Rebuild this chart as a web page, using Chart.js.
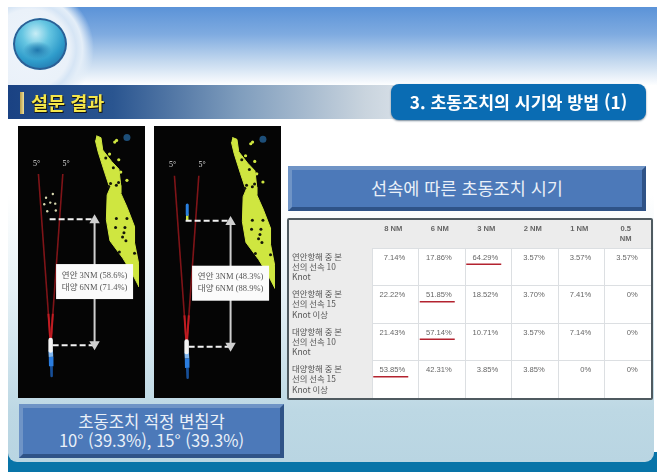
<!DOCTYPE html>
<html lang="ko"><head><meta charset="utf-8">
<script src="https://cdn.jsdelivr.net/npm/chart.js@4"></script>
<style>
html,body{margin:0;padding:0;background:#fff;overflow:hidden}
#slide{position:relative;width:657px;height:472px;overflow:hidden;filter:blur(.45px);font-family:"Noto Sans CJK KR",sans-serif}
.abs{position:absolute}
#sky{left:8px;top:7px;width:649px;height:78px;background:linear-gradient(#5b93d8 0%,#7fabe0 35%,#c4d9ef 70%,#fdfeff 100%)}
#globeClip{left:8px;top:7px;width:100px;height:78px;overflow:hidden}
#halo{left:-42px;top:-22px;width:128px;height:128px;border-radius:50%;background:radial-gradient(closest-side,#eef4fb 0,#eaf1f9 62%,#d6e5f5 72%,#e4eef8 82%,rgba(225,236,248,0) 100%)}
#globe{left:13px;top:18px;width:54px;height:52px;border-radius:50%;box-shadow:0 0 0 2px #2c5f95 inset;background:radial-gradient(ellipse 14px 9px at 45% 62%,#1f77ad 0,rgba(31,119,173,0) 100%),radial-gradient(circle at 42% 30%,#c7edf6 0,#66c6e2 28%,#2f9ccb 58%,#1f6fa8 85%,#1b5088 100%)}
#band{left:8px;top:85px;width:420px;height:34px;background:linear-gradient(90deg,#1a4283 0%,#2a5590 25%,#7f9dbd 55%,#c9d4de 85%,#e2e8ee 100%)}
#bar{left:20px;top:92px;width:4px;height:22px;background:linear-gradient(90deg,#b79c48,#efe09a)}
#title{left:31px;top:89px;font-size:18.5px;font-weight:700;color:#f4e64a;text-shadow:1px 1px 0 #111,-.5px .5px 0 #222;line-height:26px;white-space:nowrap}
#pill{left:391px;top:84px;width:255px;height:36px;border-radius:8px;background:#0a6cb3;box-shadow:0 1px 2px #789;color:#fff;font-weight:700;font-size:17.3px;line-height:35px;text-align:center;white-space:nowrap}
#body{left:8px;top:120px;width:646px;height:342px;border-radius:0 0 9px 9px;background:linear-gradient(#fff 0%,#fff 22%,#e6f1f6 50%,#bdd8e4 85%,#b9d5e2 100%)}
#foot2{left:8px;top:452px;width:649px;height:20px;background:#0874a8}
.box{background:#4c79b9;border:4px solid;border-color:#6f94c6 #2f5387 #2f5387 #6f94c6;color:#e9f0f8;text-align:center;box-sizing:border-box;white-space:nowrap}
#speedBox{left:288px;top:166px;width:358px;height:45px;font-size:17.5px;line-height:35px}
#angleBox{left:19px;top:404px;width:265px;height:54px;font-size:16.6px;line-height:19px;padding-top:4px}
#tableWrap{left:287px;top:218px;width:366px;height:182px;box-sizing:border-box;border:2px solid #4f5a60;background:#fff;border-radius:2px}
canvas{display:block}
</style></head><body>
<div id="slide">
<div class="abs" id="sky"></div>
<div class="abs" id="globeClip"><div class="abs" id="halo"></div></div>
<div class="abs" id="globe"></div>
<div class="abs" id="foot2"></div>
<div class="abs" id="body"></div>
<div class="abs" id="band"></div>
<div class="abs" id="bar"></div>
<div class="abs" id="title">설문 결과</div>
<div class="abs" id="pill">3. 초동조치의 시기와 방법 (1)</div>
<div class="abs" style="left:18px;top:126px;width:127px;height:272px;background:#050505"><canvas id="radarA" width="127" height="272"></canvas></div>
<div class="abs" style="left:154px;top:126px;width:127px;height:272px;background:#050505"><canvas id="radarB" width="127" height="272"></canvas></div>
<div class="abs box" id="speedBox">선속에 따른 초동조치 시기</div>
<div class="abs" id="tableWrap"><canvas id="timing" width="362" height="178"></canvas></div>
<div class="abs box" id="angleBox">초동조치 적정 변침각<br>10° (39.3%), 15° (39.3%)</div>
</div>
<script>
// ---- table data (percent of respondents) ----
const distanceLabels = [['8 NM',''],['6 NM',''],['3 NM',''],['2 NM',''],['1 NM',''],['0.5','NM']];
const rowLabels = [
  ['연안항해 중 본','선의 선속 10','Knot'],
  ['연안항해 중 본','선의 선속 15','Knot 이상'],
  ['대양항해 중 본','선의 선속 10','Knot'],
  ['대양항해 중 본','선의 선속 15','Knot 이상']
];
const coastal10 = [7.14,17.86,64.29,3.57,3.57,3.57];
const coastal15 = [22.22,51.85,18.52,3.70,7.41,0];
const ocean10   = [21.43,57.14,10.71,3.57,7.14,0];
const ocean15   = [53.85,42.31,3.85,3.85,0,0];

// ---- radar picture data, in nautical miles from own ship ----
const limitLeft  = [{x:0,y:0},{x:-0.61,y:8.15}];
const limitRight = [{x:0,y:0},{x:0.61,y:8.15}];
const rangeNM = 6;
const coastline = [
 {x:2.29,y:9.97},{x:2.52,y:9.88},{x:2.61,y:9.29},{x:3.06,y:8.74},{x:3.42,y:8.38},{x:3.51,y:7.61},{x:3.51,y:7.24},
 {x:3.83,y:6.56},{x:4.20,y:5.65},{x:4.20,y:4.88},{x:4.42,y:3.83},{x:4.42,y:2.79},{x:4.10,y:3.38},{x:3.61,y:4.15},
 {x:2.97,y:4.97},{x:2.79,y:5.97},{x:2.83,y:7.15},{x:2.97,y:7.47},{x:2.70,y:8.24},{x:2.38,y:9.20},{x:2.24,y:9.75}
];
const coastHoles = [
 {x:2.91,y:7.55},{x:3.67,y:5.35},{x:3.77,y:4.97},{x:3.44,y:4.44},{x:4.2,y:4.38},{x:3.29,y:6.03},{x:3.82,y:6.03},
 {x:3.14,y:8.45},{x:2.76,y:8.91},{x:3.29,y:7.62},{x:3.72,y:5.6},{x:3.25,y:5.6},{x:3.0,y:7.7},{x:3.4,y:7.75},{x:3.6,y:5.15}
];
const coastIslands = [
 {x:3.21,y:9.67},{x:3.41,y:8.83},{x:3.51,y:8.24},{x:3.82,y:7.85},{x:3.3,y:9.75},{x:2.95,y:9.1}
];
const targetsA = [{x:0.11,y:7.2},{x:-0.23,y:7.02},{x:-0.32,y:6.71},{x:-0.02,y:6.79},{x:0.23,y:6.74},{x:-0.17,y:6.38},{x:0.26,y:6.41}];
const vesselB  = [{x:0.03,y:6.75},{x:0.03,y:6.3}];
const vesselBTip = [{x:0.03,y:6.3},{x:0.03,y:6.05}];
const beaconMark = [{x:3.82,y:9.89}];
const limitText = ['5°','5°'];
const noteA = ['연안 3NM (58.6%)','대양 6NM (71.4%)'];
const noteB = ['연안 3NM (48.3%)','대양 6NM (88.9%)'];

const labelPlugin = {
  id:'radarLabels',
  afterDatasetsDraw(chart,args,o){
    const {ctx,scales:{x,y}} = chart;
    ctx.save();
    ctx.fillStyle='#ddd';ctx.font='8px "Liberation Serif"';ctx.textAlign='center';ctx.textBaseline='middle';
    ctx.fillText(limitText[0],x.getPixelForValue(-0.70),y.getPixelForValue(8.65));
    ctx.fillText(limitText[1],x.getPixelForValue(0.77),y.getPixelForValue(8.65));
    const cx=x.getPixelForValue(2.2), cy=y.getPixelForValue(3.03);
    ctx.fillStyle='#fbfbfb';ctx.fillRect(cx-38.5,cy-17.5,77,35);
    ctx.fillStyle='#555';ctx.font='8.5px "Liberation Serif","Noto Sans CJK KR"';
    ctx.fillText(o.note[0],cx,cy-6);ctx.fillText(o.note[1],cx,cy+6);
    ctx.restore();
  }
};

function radar(id,note,yMin,yMax,extra){
  const line=(data,c,w,more)=>Object.assign({data,showLine:true,borderColor:c,borderWidth:w,pointRadius:0,tension:0,fill:false},more||{});
  const dots=(data,c,r,more)=>Object.assign({data,showLine:false,backgroundColor:c,borderWidth:0,pointRadius:r,pointHoverRadius:r},more||{});
  const datasets=[
    line([{x:2.2,y:0.05},{x:2.2,y:rangeNM-0.05}],'#cfcfcf',2,{pointRadius:4,pointStyle:'triangle',backgroundColor:'#cfcfcf',rotation:[180,0]}),
    line([{x:-0.05,y:rangeNM},{x:2.14,y:rangeNM}],'#f2f2f2',2,{borderDash:[6,3]}),
    line([{x:0.1,y:0},{x:2.14,y:0}],'#f2f2f2',2,{borderDash:[6,3]}),
    line([{x:0,y:0.25},{x:0,y:-0.25}],'#f4f4f4',4.5,{borderCapStyle:'round'}),
    line([{x:0,y:-0.25},{x:0.02,y:-0.55}],'#7fb6f0',4.5),
    line([{x:0.02,y:-0.55},{x:0.03,y:-1.0}],'#2a7de0',4.5),
    line([{x:0.03,y:-1.0},{x:0.05,y:-1.47}],'#174f98',2.5,{borderCapStyle:'round'}),
    line([{x:0,y:0},{x:-0.11,y:1.5}],'#c01c22',2),
    line([{x:0,y:0},{x:0.11,y:1.5}],'#c01c22',2),
    line(limitLeft,'#7f1418',1.6),
    line(limitRight,'#7f1418',1.6),
    ...extra.map(e=>e.kind==='line'?line(e.data,e.color,e.width,{borderCapStyle:'round'}):dots(e.data,e.color,e.r)),
    dots(coastHoles,'#14160a',1.5),
    dots(beaconMark,'#1d4e78',3.5),
    dots(coastIslands,'#cfe640',1.6),
    line(coastline,'#cfe640',1,{fill:'shape',backgroundColor:'#cfe640'})
  ];
  new Chart(document.getElementById(id),{
    type:'scatter',
    data:{datasets},
    plugins:[labelPlugin],
    options:{
      responsive:false,animation:false,events:[],
      layout:{padding:0},
      plugins:{legend:{display:false},tooltip:{enabled:false},title:{display:false},radarLabels:{note}},
      scales:{
        x:{type:'linear',display:false,min:-1.333,max:4.424},
        y:{type:'linear',display:false,min:yMin,max:yMax}
      }
    }
  });
}
radar('radarA',noteA,-2.227,10.15,[{kind:'dots',data:targetsA,color:'#d8d8b0',r:1.2}]);
radar('radarB',noteB,-2.15,10.23,[
  {kind:'line',data:vesselB,color:'#2a80e0',width:3},
  {kind:'line',data:vesselBTip,color:'#cfe640',width:2.5}
]);

// ---- timing table, drawn on two category axes ----
const rowValues=[coastal10,coastal15,ocean10,ocean15];
const tablePlugin={
  id:'tableCells',
  beforeDraw(chart){
    const {ctx,chartArea:a,width}=chart;
    ctx.save();ctx.fillStyle='#ececec';
    ctx.fillRect(0,0,width,a.top);ctx.fillRect(0,0,a.left,chart.height);
    ctx.restore();
  },
  afterDatasetsDraw(chart){
    const {ctx}=chart;
    ctx.save();
    ctx.font='7.6px "Liberation Sans"';ctx.textAlign='right';ctx.textBaseline='middle';
    chart.data.datasets.forEach((ds,d)=>{
      const top=Math.max(...ds.data.map(p=>p.v));
      chart.getDatasetMeta(d).data.forEach((el,i)=>{
        const v=ds.data[i].v, tx=el.x+10, ty=el.y-9;
        ctx.fillStyle='#666';
        ctx.fillText(v===0?'0%':v.toFixed(2)+'%',tx,ty);
        if(v===top){
          ctx.strokeStyle='#b3232f';ctx.lineWidth=1.6;
          ctx.beginPath();ctx.moveTo(tx-32,ty+6.5);ctx.lineTo(tx+3,ty+6.5);ctx.stroke();
        }
      });
    });
    ctx.restore();
  }
};
new Chart(document.getElementById('timing'),{
  type:'scatter',
  data:{datasets:rowValues.map((vals,r)=>({
    label:rowLabels[r].join(' '),
    parsing:false,
    data:vals.map((v,c)=>({x:c,y:r,v})),
    pointRadius:0,showLine:false
  }))},
  plugins:[tablePlugin],
  options:{
    responsive:false,animation:false,events:[],
    layout:{padding:{left:3,right:0,top:0,bottom:0}},
    plugins:{legend:{display:false},tooltip:{enabled:false},title:{display:false}},
    scales:{
      x:{
        type:'category',labels:distanceLabels,position:'top',offset:true,
        afterFit(s){s.height=28;s.paddingLeft=0;s.paddingRight=0;},
        grid:{offset:true,color:'#dcdfe2',drawTicks:false,tickLength:0},border:{display:false},
        ticks:{autoSkip:false,maxRotation:0,minRotation:0,padding:4,labelOffset:-2,color:'#666',font:{family:'Liberation Sans',size:7.6,lineHeight:1.3,weight:'bold'}}
      },
      y:{
        type:'category',labels:rowLabels,offset:true,
        afterFit(s){s.width=80;s.paddingTop=0;s.paddingBottom=0;},
        grid:{offset:true,color:'#dcdfe2',drawTicks:false,tickLength:0},border:{display:false},
        ticks:{autoSkip:false,crossAlign:'far',padding:0,color:'#555',font:{family:'Noto Sans CJK KR',size:8.4,lineHeight:1.2}}
      }
    }
  }
});
</script>
</body></html>
